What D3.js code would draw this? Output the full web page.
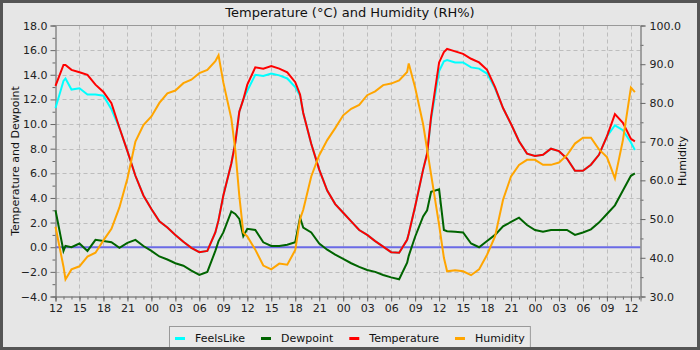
<!DOCTYPE html>
<html>
<head>
<meta charset="utf-8">
<script src="https://cdn.jsdelivr.net/npm/d3@7"></script>
<style>
  body { margin: 0; background: #e6e6e6; }
  svg { display: block; font-family: "DejaVu Sans", sans-serif; }
</style>
</head>
<body>
<svg id="chart" width="700" height="350"></svg>
<script>
// Hours elapsed since 12:00 on the first day
const hours = [
  0, 1, 1.25, 2, 3, 4, 5, 6, 7, 8, 9, 10, 11, 12, 13, 14, 15, 16, 17, 18, 19, 20, 20.4,
  21, 22, 22.5, 23, 23.5, 24, 25, 26, 27, 28, 29, 30, 30.6, 31, 32, 33, 34, 35, 36, 37, 38, 39, 40,
  41, 42, 43, 44, 44.2, 45, 46, 46.5, 47, 48, 48.6, 49, 50, 51, 52, 53, 54, 55, 56, 57, 58, 59,
  60, 61, 62, 63, 64, 65, 66, 67, 68, 69, 70, 71, 72, 72.5
];

// Air temperature (°C)
const temperature = [
  13.1, 14.8, 14.8, 14.4, 14.2, 14.0, 13.2, 12.6, 11.7, 9.7, 7.8, 5.8, 4.2, 3.1, 2.1, 1.6, 1.0, 0.45, -0.05, -0.4, -0.3, 1.2, 2.2,
  4.2, 6.8, 8.5, 11.0, 12.0, 13.2, 14.6, 14.5, 14.7, 14.5, 14.2, 13.4, 12.4, 10.9, 8.4, 6.3, 4.6, 3.5, 2.8, 2.1, 1.4, 1.0, 0.5,
  0.05, -0.4, -0.45, 0.6, 1.1, 3.3, 6.3, 7.6, 10.6, 15.0, 15.85, 16.1, 15.9, 15.7, 15.3, 15.0, 14.4, 13.0, 11.3, 10.0, 8.6, 7.6,
  7.4, 7.5, 8.0, 7.8, 7.2, 6.2, 6.2, 6.7, 7.5, 9.0, 10.8, 10.1, 8.8, 8.6
];

// Apparent ("feels like") temperature (°C)
const feelsLike = [
  11.3, 13.5, 13.7, 12.8, 12.9, 12.4, 12.4, 12.3, 11.2, 9.7, 7.8, 5.8, 4.2, 3.1, 2.1, 1.6, 1.0, 0.45, -0.05, -0.4, -0.3, 1.2, 2.2,
  4.2, 6.8, 8.5, 11.0, 12.0, 12.7, 14.0, 13.9, 14.1, 13.95, 13.7, 13.0, 12.3, 10.9, 8.4, 6.3, 4.6, 3.5, 2.8, 2.1, 1.4, 1.0, 0.5,
  0.05, -0.4, -0.45, 0.6, 1.1, 3.3, 6.3, 7.6, 10.4, 14.3, 15.1, 15.2, 15.0, 15.0, 14.6, 14.5, 14.1, 12.9, 11.3, 10.0, 8.6, 7.6,
  7.4, 7.5, 8.0, 7.8, 7.2, 6.2, 6.2, 6.7, 7.5, 9.0, 9.9, 9.5, 8.5, 7.9
];

// Dewpoint (°C)
const dewpoint = [
  3.0, -0.3, 0.1, 0.0, 0.3, -0.3, 0.6, 0.5, 0.4, -0.05, 0.35, 0.6, 0.1, -0.3, -0.75, -1.0, -1.3, -1.5, -1.9, -2.25, -2.0, -0.3, 0.5,
  1.2, 2.9, 2.7, 2.3, 0.9, 1.5, 1.4, 0.4, 0.1, 0.1, 0.2, 0.4, 2.4, 1.6, 1.2, 0.3, -0.2, -0.6, -0.95, -1.3, -1.6, -1.85, -2.0,
  -2.25, -2.45, -2.6, -1.25, -0.7, 0.85, 2.5, 3.0, 4.5, 4.7, 1.4, 1.3, 1.25, 1.2, 0.3, 0.0, 0.5, 1.0, 1.7, 2.05, 2.4, 1.8,
  1.4, 1.25, 1.4, 1.4, 1.4, 1.0, 1.2, 1.45, 2.0, 2.7, 3.4, 4.6, 5.8, 6.0
];

// Relative humidity (%)
const humidity = [
  48, 37.7, 34.4, 37, 37.8, 40.3, 41.3, 44.5, 47.5, 53, 60.5, 70, 74.3, 76.5, 80, 82.5, 83.2, 85.1, 86, 87.7, 88.5, 90.8, 92.3,
  85.3, 76, 67.8, 56, 46.5, 45.5, 42.1, 38, 37, 38.5, 38.2, 42, 50, 52.4, 61, 66.5, 70.4, 73.5, 76.8, 78.5, 79.5, 82, 83,
  84.6, 85, 85.8, 88, 90.2, 84, 74.5, 68, 61.5, 48.5, 40, 36.5, 36.8, 36.5, 35.5, 37, 40.8, 45.5, 55, 61, 64, 65.3,
  65.3, 64, 64, 64.6, 66.5, 69.5, 71, 71, 68, 66, 60.5, 70.4, 84, 82.8
];

const seriesNames = ["FeelsLike", "Dewpoint", "Temperature", "Humidity"];
const seriesColors = ["#00ffff", "#006400", "#ff0000", "#ffa500"];
const titleText = "Temperature (°C) and Humidity (RH%)";
const leftTitle = "Temperature and Dewpoint";
const rightTitle = "Humidity";

const W = 700, H = 350;
const pL = 55.5, pR = 640.5, pT = 25.5, pB = 296.5;

const svg = d3.select("#chart");

// background
svg.append("rect").attr("x", 0).attr("y", 0).attr("width", W).attr("height", H).attr("fill", "#e6e6e6");

const x = d3.scaleLinear().domain([0, 73.2]).range([pL, pR]);
const yT = d3.scaleLinear().domain([-4, 18]).range([pB, pT]);
const yH = d3.scaleLinear().domain([30, 100]).range([pB, pT]);

// dashed grid
const grid = svg.append("g").attr("stroke", "#bdbdbd").attr("stroke-dasharray", "4,3").attr("stroke-width", 1);
grid.selectAll("line.v").data(d3.range(3, 73, 3)).join("line").attr("class", "v")
  .attr("x1", d => Math.round(x(d)) + 0.5).attr("x2", d => Math.round(x(d)) + 0.5)
  .attr("y1", pT).attr("y2", pB);
grid.selectAll("line.h").data(d3.range(-2, 18, 2)).join("line").attr("class", "h")
  .attr("y1", d => Math.round(yT(d)) + 0.5).attr("y2", d => Math.round(yT(d)) + 0.5)
  .attr("x1", pL).attr("x2", pR);

// top frame line
svg.append("line").attr("x1", pL).attr("x2", pR).attr("y1", pT).attr("y2", pT)
  .attr("stroke", "#999").attr("stroke-width", 1);

// zero reference line
svg.append("line").attr("x1", pL).attr("x2", pR)
  .attr("y1", yT(0)).attr("y2", yT(0))
  .attr("stroke", "#6a6ae6").attr("stroke-width", 2);

function styleAxis(g) {
  g.selectAll(".domain").attr("stroke", "#888");
  g.selectAll(".tick line").attr("stroke", "#666");
  g.selectAll(".tick text").attr("fill", "#222").attr("font-size", 11)
    .attr("font-family", "DejaVu Sans, sans-serif");
}

// left axis: minor ticks then labelled major ticks
svg.append("g").attr("transform", `translate(${pL},0)`)
  .call(d3.axisLeft(yT).tickValues(d3.range(-3, 18, 2)).tickSize(3).tickFormat(""))
  .call(styleAxis);
svg.append("g").attr("transform", `translate(${pL},0)`)
  .call(d3.axisLeft(yT).tickValues(d3.range(-4, 18.1, 2)).tickSize(5).tickPadding(3).tickFormat(d3.format(".1f")))
  .call(styleAxis);

// right axis
svg.append("g").attr("transform", `translate(${pR},0)`)
  .call(d3.axisRight(yH).tickValues(d3.range(35, 100, 10)).tickSize(3).tickFormat(""))
  .call(styleAxis);
svg.append("g").attr("transform", `translate(${pR},0)`)
  .call(d3.axisRight(yH).tickValues(d3.range(30, 100.1, 10)).tickSize(5).tickPadding(4).tickFormat(d3.format(".1f")))
  .call(styleAxis);

// bottom axis: hourly minor ticks, labels every three hours
const hourLabel = h => String((12 + h) % 24).padStart(2, "0");
svg.append("g").attr("transform", `translate(0,${pB})`)
  .call(d3.axisBottom(x).tickValues(d3.range(0, 73.2, 1)).tickSize(3).tickFormat(""))
  .call(styleAxis);
svg.append("g").attr("transform", `translate(0,${pB})`)
  .call(d3.axisBottom(x).tickValues(d3.range(0, 73, 3)).tickSize(5).tickPadding(3).tickFormat(hourLabel))
  .call(styleAxis);

// data lines
const rows = hours.map((h, i) => ({ h, feels: feelsLike[i], dew: dewpoint[i], temp: temperature[i], hum: humidity[i] }));
const lineT = key => d3.line().x(d => x(d.h)).y(d => yT(d[key]));
const lineH = d3.line().x(d => x(d.h)).y(d => yH(d.hum));
const plot = svg.append("g").attr("fill", "none").attr("stroke-width", 2).attr("stroke-linejoin", "miter");
plot.append("path").datum(rows).attr("d", lineT("feels")).attr("stroke", seriesColors[0]);
plot.append("path").datum(rows).attr("d", lineT("dew")).attr("stroke", seriesColors[1]);
plot.append("path").datum(rows).attr("d", lineT("temp")).attr("stroke", seriesColors[2]);
plot.append("path").datum(rows).attr("d", lineH).attr("stroke", seriesColors[3]);

// titles
svg.append("text").attr("x", 350).attr("y", 17).attr("text-anchor", "middle")
  .attr("font-size", 13).attr("fill", "#111").text(titleText);
svg.append("text").attr("transform", `translate(19,${(pT + pB) / 2}) rotate(-90)`)
  .attr("text-anchor", "middle").attr("font-size", 11).attr("fill", "#111").text(leftTitle);
svg.append("text").attr("transform", `translate(686,${(pT + pB) / 2}) rotate(-90)`)
  .attr("text-anchor", "middle").attr("font-size", 11).attr("fill", "#111").text(rightTitle);

// legend
const legend = svg.append("g");
const legBox = legend.append("rect").attr("y", 326.5).attr("height", 30)
  .attr("fill", "#e9e9e9").attr("stroke", "#999");
let cx = 0;
const items = legend.append("g");
seriesNames.forEach((name, i) => {
  const g = items.append("g").attr("transform", `translate(${cx},0)`);
  g.append("line").attr("x1", 0).attr("x2", 10).attr("y1", 338.5).attr("y2", 338.5)
    .attr("stroke", seriesColors[i]).attr("stroke-width", 3);
  const t = g.append("text").attr("x", 20).attr("y", 342).attr("font-size", 11).attr("fill", "#111").text(name);
  cx += 20 + t.node().getComputedTextLength() + 16;
});
const itemsW = cx - 16;
const x0 = Math.round(350 - itemsW / 2);
items.attr("transform", `translate(${x0},0)`);
legBox.attr("x", x0 - 5.5).attr("width", itemsW + 11);

// outer frame
svg.append("rect").attr("x", 1.5).attr("y", 1.5).attr("width", W - 3).attr("height", H - 3)
  .attr("fill", "none").attr("stroke", "#555").attr("stroke-width", 3);
</script>
</body>
</html>
